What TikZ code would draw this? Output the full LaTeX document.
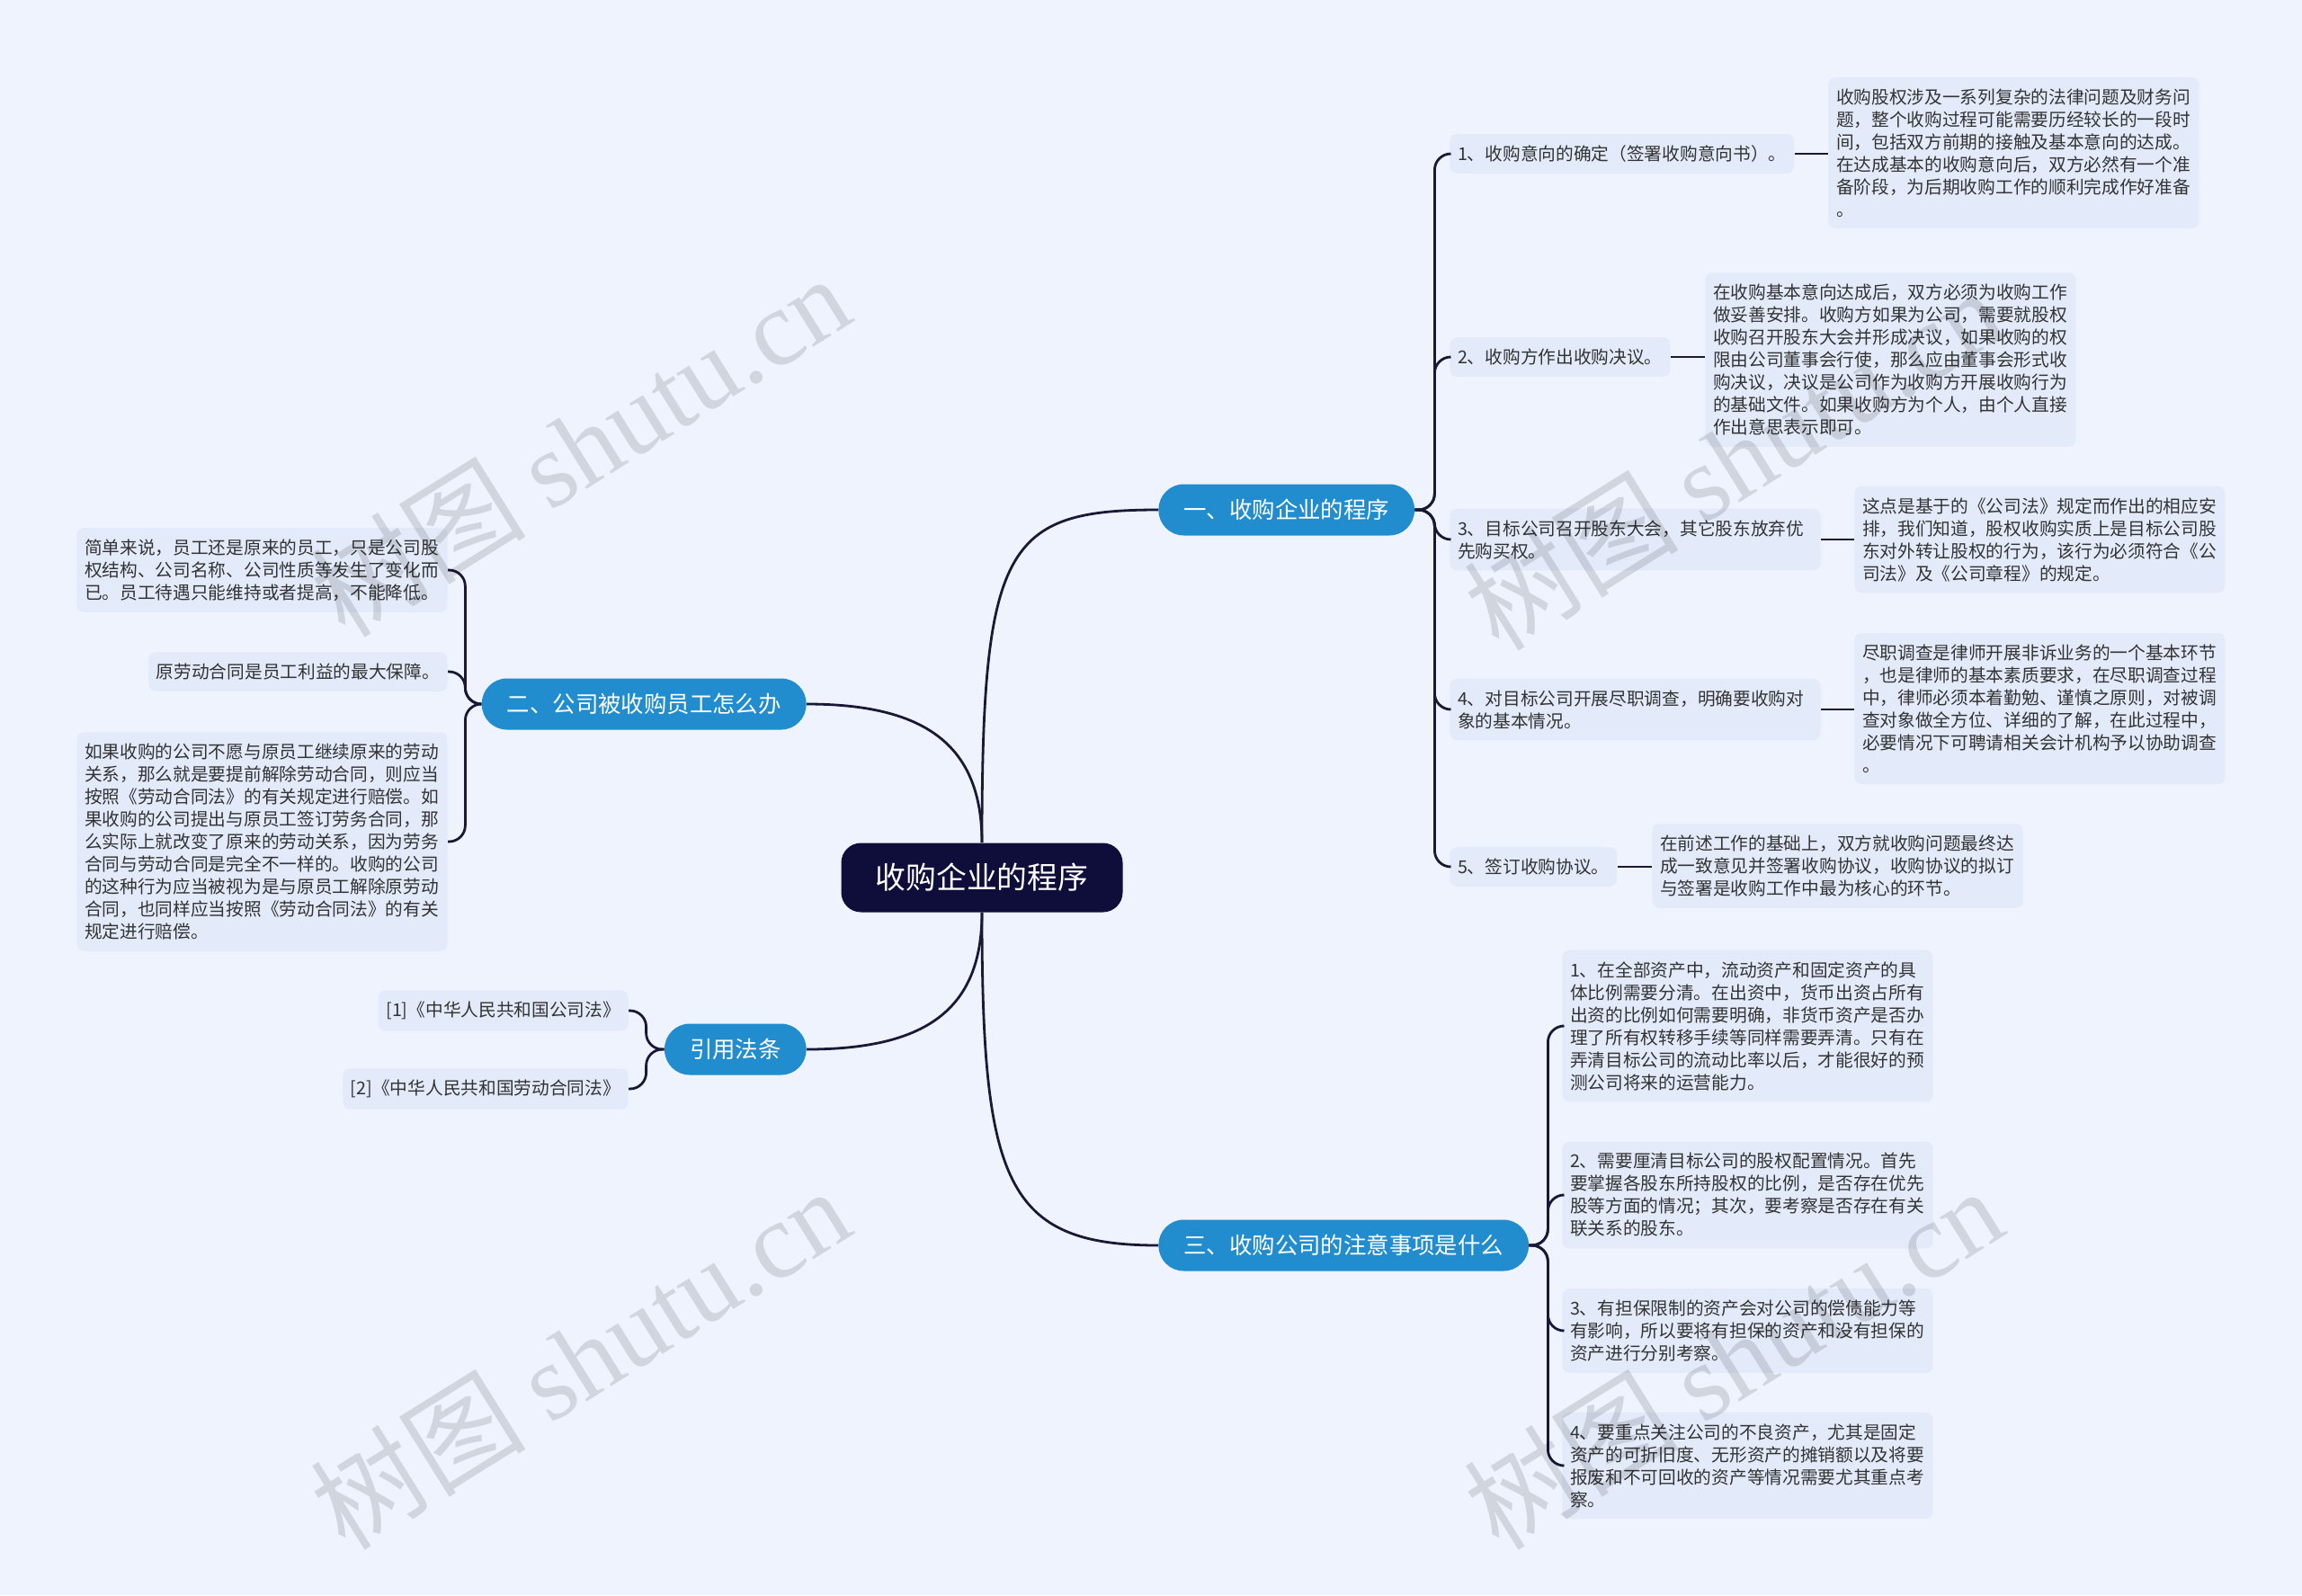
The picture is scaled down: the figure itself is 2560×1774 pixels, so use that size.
\documentclass[tikz,border=0pt]{standalone}
\usepackage{fontspec}
\setmainfont{Noto Sans CJK SC}
\newfontfamily\wmlatin{Liberation Serif}
\definecolor{pagebg}{RGB}{238,243,253}
\definecolor{leafbg}{RGB}{227,234,250}
\definecolor{leaftext}{RGB}{51,51,51}
\definecolor{topicblue}{RGB}{33,140,206}
\definecolor{rootnavy}{RGB}{15,14,58}
\definecolor{linknavy}{RGB}{25,25,55}

\begin{document}
\begin{tikzpicture}[x=0.5pt,y=-0.5pt,
  root/.style={fill=rootnavy,text=white,rounded corners=11pt,minimum width=156.5pt,minimum height=38.5pt,font=\fontsize{16.9pt}{20pt}\selectfont},
  topic/.style={fill=topicblue,text=white,rounded corners=14pt,minimum height=28.5pt,inner xsep=14pt,font=\fontsize{12.7pt}{15pt}\selectfont},
  leaf/.style={fill=leafbg,text=leaftext,rounded corners=4pt,align=left,inner xsep=4.3pt,inner ysep=6.3pt,font=\fontsize{9.85pt}{12.5pt}\selectfont},
  wide/.style={leaf,text width=197.5pt},
  link/.style={linknavy,line width=1.4pt},
  fork/.style={link,rounded corners=9pt},
  wmark/.style={rotate=32,text=black,opacity=0.12,font=\fontsize{60pt}{60pt}\selectfont}]
\useasboundingbox (0,0) rectangle (2560,1774);
\fill[pagebg] (0,0) rectangle (2560,1774);

\node[root] (root) at (1092,976) {收购企业的程序};
\node[topic,anchor=west] (b1) at (1288,567) {一、收购企业的程序};
\node[topic,anchor=east] (b2) at (897,783) {二、公司被收购员工怎么办};
\node[topic,anchor=east] (b3) at (897,1167) {引用法条};
\node[topic,anchor=west] (b4) at (1288,1385) {三、收购公司的注意事项是什么};

\node[leaf,anchor=west] (c1) at (1612,171) {1、收购意向的确定（签署收购意向书）。};
\node[leaf,anchor=west] (c2) at (1612,397) {2、收购方作出收购决议。};
\node[wide,anchor=west] (c3) at (1612,600) {3、目标公司召开股东大会，其它股东放弃优\\先购买权。};
\node[wide,anchor=west] (c4) at (1612,789) {4、对目标公司开展尽职调查，明确要收购对\\象的基本情况。};
\node[leaf,anchor=west] (c5) at (1612,964) {5、签订收购协议。};

\node[wide,anchor=west] (d1) at (2033,170) {收购股权涉及一系列复杂的法律问题及财务问\\题，整个收购过程可能需要历经较长的一段时\\间，包括双方前期的接触及基本意向的达成。\\在达成基本的收购意向后，双方必然有一个准\\备阶段，为后期收购工作的顺利完成作好准备\\。};
\node[wide,anchor=west] (d2) at (1896,400) {在收购基本意向达成后，双方必须为收购工作\\做妥善安排。收购方如果为公司，需要就股权\\收购召开股东大会并形成决议，如果收购的权\\限由公司董事会行使，那么应由董事会形式收\\购决议，决议是公司作为收购方开展收购行为\\的基础文件。如果收购方为个人，由个人直接\\作出意思表示即可。};
\node[wide,anchor=west] (d3) at (2062,600) {这点是基于的《公司法》规定而作出的相应安\\排，我们知道，股权收购实质上是目标公司股\\东对外转让股权的行为，该行为必须符合《公\\司法》及《公司章程》的规定。};
\node[wide,anchor=west] (d4) at (2062,788) {尽职调查是律师开展非诉业务的一个基本环节\\，也是律师的基本素质要求，在尽职调查过程\\中，律师必须本着勤勉、谨慎之原则，对被调\\查对象做全方位、详细的了解，在此过程中，\\必要情况下可聘请相关会计机构予以协助调查\\。};
\node[wide,anchor=west] (d5) at (1837,963) {在前述工作的基础上，双方就收购问题最终达\\成一致意见并签署收购协议，收购协议的拟订\\与签署是收购工作中最为核心的环节。};

\node[wide,anchor=east] (f1) at (498,634) {简单来说，员工还是原来的员工，只是公司股\\权结构、公司名称、公司性质等发生了变化而\\已。员工待遇只能维持或者提高，不能降低。};
\node[leaf,anchor=east] (f2) at (498,747) {原劳动合同是员工利益的最大保障。};
\node[wide,anchor=east] (f3) at (498,936) {如果收购的公司不愿与原员工继续原来的劳动\\关系，那么就是要提前解除劳动合同，则应当\\按照《劳动合同法》的有关规定进行赔偿。如\\果收购的公司提出与原员工签订劳务合同，那\\么实际上就改变了原来的劳动关系，因为劳务\\合同与劳动合同是完全不一样的。收购的公司\\的这种行为应当被视为是与原员工解除原劳动\\合同，也同样应当按照《劳动合同法》的有关\\规定进行赔偿。};

\node[leaf,anchor=east] (g1) at (699,1124) {[1]《中华人民共和国公司法》};
\node[leaf,anchor=east] (g2) at (699,1211) {[2]《中华人民共和国劳动合同法》};

\node[wide,anchor=west] (e1) at (1737,1141) {1、在全部资产中，流动资产和固定资产的具\\体比例需要分清。在出资中，货币出资占所有\\出资的比例如何需要明确，非货币资产是否办\\理了所有权转移手续等同样需要弄清。只有在\\弄清目标公司的流动比率以后，才能很好的预\\测公司将来的运营能力。};
\node[wide,anchor=west] (e2) at (1737,1329) {2、需要厘清目标公司的股权配置情况。首先\\要掌握各股东所持股权的比例，是否存在优先\\股等方面的情况；其次，要考察是否存在有关\\联关系的股东。};
\node[wide,anchor=west] (e3) at (1737,1480) {3、有担保限制的资产会对公司的偿债能力等\\有影响，所以要将有担保的资产和没有担保的\\资产进行分别考察。};
\node[wide,anchor=west] (e4) at (1737,1630) {4、要重点关注公司的不良资产，尤其是固定\\资产的可折旧度、无形资产的摊销额以及将要\\报废和不可回收的资产等情况需要尤其重点考\\察。};

\draw[link] (root.north) .. controls +(0,-330) and +(-170,0) .. (b1.west);
\draw[link] (root.north) .. controls +(0,-110) and +(130,0) .. (b2.east);
\draw[link] (root.south) .. controls +(0,110) and +(130,0) .. (b3.east);
\draw[link] (root.south) .. controls +(0,300) and +(-170,0) .. (b4.west);

\foreach \c in {c1,c2,c3,c4,c5}
  \draw[fork] (b1.east) -- ++(22,0) |- (\c.west);
\foreach \c/\d in {c1/d1,c2/d2,c3/d3,c4/d4,c5/d5}
  \draw[link] (\c.east) -- (\c.east -| \d.west);
\foreach \c in {f1,f2,f3}
  \draw[fork] (b2.west) -- ++(-18,0) |- (\c.east);
\foreach \c in {g1,g2}
  \draw[fork] (b3.west) -- ++(-20,0) |- (\c.east);
\foreach \c in {e1,e2,e3,e4}
  \draw[fork] (b4.east) -- ++(21,0) |- (\c.west);

\node[wmark] (wm1) at (645,495) {树图 {\wmlatin shutu.cn}};
\node[wmark] (wm2) at (1927,510) {树图 {\wmlatin shutu.cn}};
\node[wmark] (wm3) at (645,1510) {树图 {\wmlatin shutu.cn}};
\node[wmark] (wm4) at (1927,1510) {树图 {\wmlatin shutu.cn}};
\end{tikzpicture}
\end{document}
